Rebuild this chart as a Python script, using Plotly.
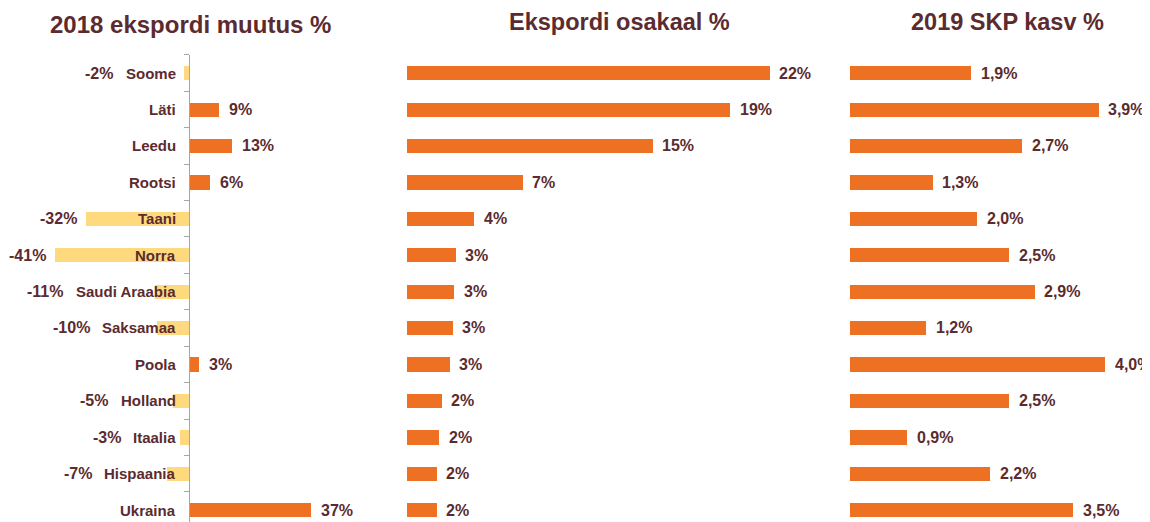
import plotly.graph_objects as go

# ---------------- data ----------------
countries = ["Soome", "Läti", "Leedu", "Rootsi", "Taani", "Norra", "Saudi Araabia",
             "Saksamaa", "Poola", "Holland", "Itaalia", "Hispaania", "Ukraina"]
export_change_2018 = [-1.5, 9.1, 13.1, 6.4, -31.6, -40.9, -10.6, -10.0, 3.0, -5.0, -2.8, -6.8, 37.0]
export_share = [21.85, 19.45, 14.8, 6.95, 4.05, 2.91, 2.83, 2.74, 2.55, 2.07, 1.93, 1.79, 1.79]
gdp_growth_2019 = [1.9, 3.9, 2.7, 1.3, 2.0, 2.5, 2.9, 1.2, 4.0, 2.5, 0.9, 2.2, 3.5]
titles = ["2018 ekspordi muutus %", "Ekspordi osakaal %", "2019 SKP kasv %"]

# ---------------- style ----------------
OFF = 8  # page body margin offset
SW, SH = 1150, 522  # screen size
W, H = SW - OFF, SH - OFF
ORANGE = "#EE7023"
YELLOW = "#FFD97D"
TXT = "#5B2B2F"
AXIS = "#A6A6A6"
FONT = "Liberation Sans, Arial, sans-serif"
CAT_SIZE = 15
VAL_SIZE = 16

TOP_PX = 54.8 - OFF
SLOT_PX = 36.42
n = len(countries)
y_bottom = -0.5 + (H - TOP_PX) / SLOT_PX

panels = [
    dict(d0=0, d1=402.5 - OFF, zero=189.3 - OFF, scale=3.28),
    dict(d0=402.5 - OFF, d1=839.5 - OFF, zero=406.7 - OFF, scale=16.6),
    dict(d0=839.5 - OFF, d1=W, zero=849.3 - OFF, scale=63.8),
]

_w = {c: 556 for c in "0123456789abcdeghknopqsuvxyzä"}
_w.update({"b": 611, "d": 611, "g": 611, "h": 611, "n": 611, "o": 611, "p": 611, "q": 611,
           "u": 611, "f": 333, "i": 278, "j": 278, "l": 278, "m": 889, "r": 389, "t": 333,
           "w": 778, "z": 500, " ": 278, "S": 667, "A": 722, "L": 611, "R": 722, "T": 611,
           "N": 722, "P": 667, "H": 722, "I": 278, "U": 722, "%": 889, "-": 333, ",": 278})


def text_w(s, size):
    return sum(_w.get(c, 600) for c in s) * size / 1000.0


fig = go.Figure()
ypos = list(range(n))

left_colors = [ORANGE if v >= 0 else YELLOW for v in export_change_2018]
fig.add_trace(go.Bar(x=export_change_2018, y=ypos, orientation="h", width=0.39,
                     marker=dict(color=left_colors, line=dict(width=0)),
                     xaxis="x", yaxis="y", hoverinfo="skip"))
fig.add_trace(go.Bar(x=export_share, y=ypos, orientation="h", width=0.39,
                     marker=dict(color=ORANGE, line=dict(width=0)),
                     xaxis="x2", yaxis="y", hoverinfo="skip"))
fig.add_trace(go.Bar(x=gdp_growth_2019, y=ypos, orientation="h", width=0.39,
                     marker=dict(color=ORANGE, line=dict(width=0)),
                     xaxis="x3", yaxis="y", hoverinfo="skip"))

layout = dict(width=W, height=H, margin=dict(l=0, r=0, t=0, b=0),
              paper_bgcolor="white", plot_bgcolor="white", showlegend=False,
              bargap=0)
for i, p in enumerate(panels):
    key = "xaxis" if i == 0 else f"xaxis{i+1}"
    r0 = (p["d0"] - p["zero"]) / p["scale"]
    r1 = (p["d1"] - p["zero"]) / p["scale"]
    layout[key] = dict(domain=[p["d0"] / W, p["d1"] / W], range=[r0, r1],
                       visible=False, fixedrange=True, anchor="y")
layout["yaxis"] = dict(domain=[0, 1 - TOP_PX / H], range=[y_bottom, -0.5],
                       anchor="free", position=panels[0]["zero"] / W,
                       showline=True, linecolor=AXIS, linewidth=1,
                       ticks="outside", ticklen=5, tickcolor=AXIS, tickwidth=1,
                       tickvals=[k - 0.5 for k in range(n + 1)],
                       showticklabels=False, showgrid=False, zeroline=False,
                       fixedrange=True)
fig.update_layout(**layout)

ann = []
S = panels[0]["scale"]
for i, (c, v) in enumerate(zip(countries, export_change_2018)):
    ann.append(dict(x=0, y=i, xref="x", yref="y", text=f"<b>{c}</b>", showarrow=False,
                    xanchor="right", yanchor="middle", xshift=-12,
                    font=dict(family=FONT, size=CAT_SIZE, color=TXT), borderpad=0))
    lab = f"{v:.0f}%"
    if v >= 0:
        ann.append(dict(x=v, y=i, xref="x", yref="y", text=f"<b>{lab}</b>", showarrow=False,
                        xanchor="left", yanchor="middle", xshift=9,
                        font=dict(family=FONT, size=VAL_SIZE, color=TXT), borderpad=0))
    else:
        cat_left_px = -(12 + text_w(c, CAT_SIZE))
        right_px = min(v * S - 8, cat_left_px - 13)
        ann.append(dict(x=right_px / S, y=i, xref="x", yref="y", text=f"<b>{lab}</b>",
                        showarrow=False, xanchor="right", yanchor="middle",
                        font=dict(family=FONT, size=VAL_SIZE, color=TXT), borderpad=0))

for i, v in enumerate(export_share):
    ann.append(dict(x=v, y=i, xref="x2", yref="y", text=f"<b>{v:.0f}%</b>", showarrow=False,
                    xanchor="left", yanchor="middle", xshift=9,
                    font=dict(family=FONT, size=VAL_SIZE, color=TXT), borderpad=0))
for i, v in enumerate(gdp_growth_2019):
    lab = f"{v:.1f}".replace(".", ",") + "%"
    ann.append(dict(x=v, y=i, xref="x3", yref="y", text=f"<b>{lab}</b>", showarrow=False,
                    xanchor="left", yanchor="middle", xshift=9,
                    font=dict(family=FONT, size=VAL_SIZE, color=TXT), borderpad=0))

# Titles (screen px: center x, top of text box y, font size)
title_pos = [(190, 10, 24), (619, 8, 23.5), (1007.5, 8, 23.5)]
for t, (px, py, sz) in zip(titles, title_pos):
    ann.append(dict(x=(px - OFF) / W, y=1 - (py - OFF) / H, xref="paper", yref="paper",
                    text=f"<b>{t}</b>", showarrow=False, xanchor="center", yanchor="top",
                    borderpad=0, font=dict(family=FONT, size=sz, color=TXT)))

fig.update_layout(annotations=ann)
fig.write_html("out.html")
